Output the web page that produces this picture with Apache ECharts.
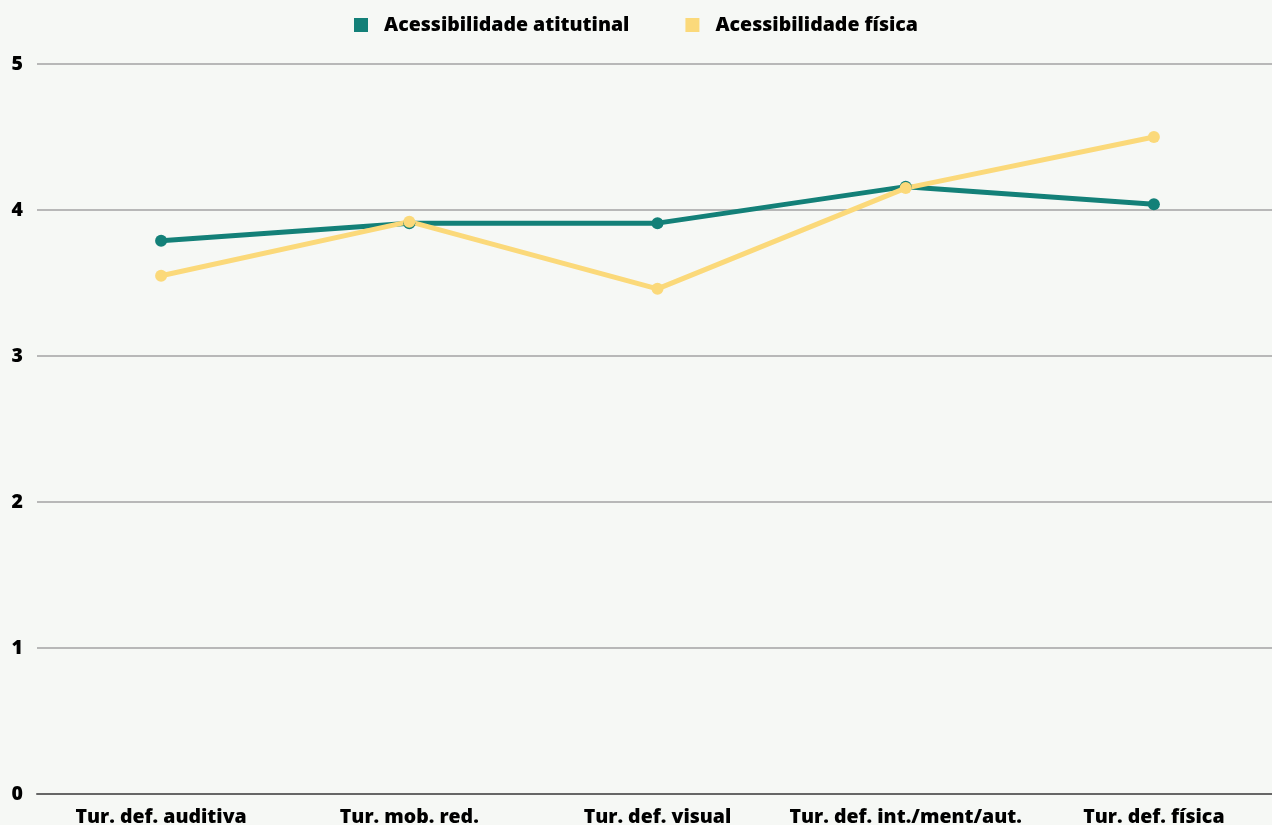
<!DOCTYPE html>
<html>
<head>
<meta charset="utf-8">
<script src="https://cdn.jsdelivr.net/npm/echarts@6/dist/echarts.min.js"></script>
<style>
  html, body { margin: 0; padding: 0; background: #f6f8f5; }
  #main { width: 1272px; height: 825px; }
</style>
</head>
<body>
<div id="main"></div>
<script>
  var categorias = ['Tur. def. auditiva', 'Tur. mob. red.', 'Tur. def. visual', 'Tur. def. int./ment/aut.', 'Tur. def. física'];
  var atitudinal = [3.79, 3.91, 3.91, 4.16, 4.04];
  var fisica = [3.55, 3.92, 3.46, 4.15, 4.5];

  var fonte = '"Open Sans", "Noto Sans", sans-serif';
  var myChart = echarts.init(document.getElementById('main'));

  var option = {
    backgroundColor: '#f6f8f5',
    textStyle: { fontFamily: fonte },
    legend: {
      top: 10,
      left: 'center',
      itemWidth: 14,
      itemHeight: 14,
      itemGap: 56,
      icon: 'rect',
      textStyle: { fontFamily: fonte, fontWeight: 800, fontSize: 19.5, color: '#000', padding: [0, 0, 0, 11] }
    },
    grid: { left: 37, width: 1241, top: 64, bottom: 31, outerBoundsMode: 'none' },
    xAxis: {
      type: 'category',
      data: categorias,
      axisLine: { lineStyle: { color: '#666666', width: 2 } },
      axisTick: { show: false },
      axisLabel: { interval: 0, fontFamily: fonte, fontWeight: 800, fontSize: 19.5, color: '#000', margin: 13 }
    },
    yAxis: {
      type: 'value',
      min: 0,
      max: 5,
      interval: 1,
      axisLine: { show: false },
      axisTick: { show: false },
      splitLine: { lineStyle: { color: '#b8b8b8', width: 2 } },
      axisLabel: { fontFamily: fonte, fontWeight: 800, fontSize: 19.5, color: '#000', margin: 14 }
    },
    series: [
      {
        name: 'Acessibilidade atitutinal',
        type: 'line',
        data: atitudinal,
        color: '#138078',
        symbol: 'circle',
        symbolSize: 12,
        lineStyle: { width: 5 }
      },
      {
        name: 'Acessibilidade física',
        type: 'line',
        data: fisica,
        color: '#fbd97a',
        symbol: 'circle',
        symbolSize: 12,
        lineStyle: { width: 5 }
      }
    ]
  };
  myChart.setOption(option);
</script>
</body>
</html>
